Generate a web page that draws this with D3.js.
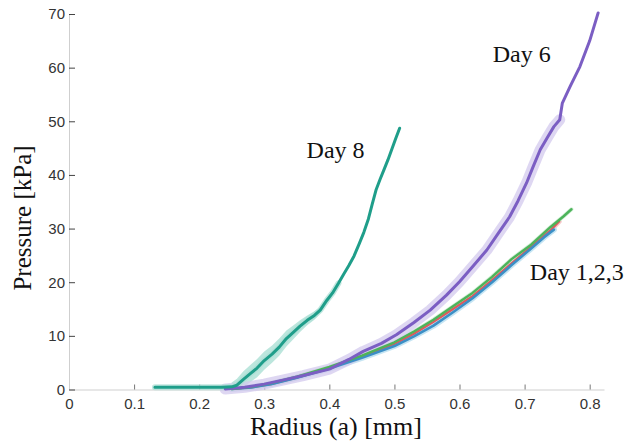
<!DOCTYPE html>
<meta charset="utf-8">
<style>
body { margin: 0; background: #fff; }
.axis text { font-family: "Liberation Sans", Arial, sans-serif; font-size: 15px; fill: #333; }
.axis .domain { stroke: #cfcfcf; }
.label { font-family: "Liberation Serif", "Times New Roman", serif; fill: #111; }
</style>
<svg width="634" height="442"></svg>
<script src="https://d3js.org/d3.v7.min.js"></script>
<script>

// x ticks and y ticks
var xTicks = [0, 0.1, 0.2, 0.3, 0.4, 0.5, 0.6, 0.7, 0.8],
    yTicks = [0, 10, 20, 30, 40, 50, 60, 70];

// Day 8
var day8R = [0.132, 0.16, 0.20, 0.235, 0.250, 0.258, 0.268, 0.279, 0.289, 0.300, 0.312, 0.323, 0.334, 0.345, 0.355, 0.366, 0.377, 0.386, 0.396, 0.405, 0.414, 0.422, 0.430, 0.438, 0.446, 0.453, 0.460, 0.466, 0.472, 0.478, 0.484, 0.490, 0.496, 0.502, 0.508];
var day8P = [0.4, 0.4, 0.4, 0.4, 0.5, 0.8, 1.9, 3.0, 4.0, 5.4, 6.6, 7.9, 9.5, 10.7, 11.8, 12.9, 13.8, 14.8, 16.6, 18.0, 19.8, 21.5, 23.1, 24.9, 27.2, 29.3, 31.8, 34.6, 37.3, 39.2, 41.0, 42.8, 44.8, 46.8, 48.7];
// Day 8 spread (kPa) for the shaded band
var day8S = [0.3, 0.3, 0.3, 0.4, 0.8, 1.2, 1.5, 1.6, 1.7, 1.7, 1.6, 1.6, 1.5, 1.3, 1.1, 0.9, 0.8, 0.6, 0.5, 0.4, 0.3, 0.3, 0.2, 0.2, 0.2, 0.2, 0.2, 0.2, 0.2, 0.2, 0.2, 0.2, 0.2, 0.2, 0.2];

// Day 6
var day6R = [0.24, 0.27, 0.30, 0.33, 0.36, 0.40, 0.43, 0.452, 0.48, 0.503, 0.53, 0.555, 0.58, 0.600, 0.620, 0.642, 0.660, 0.677, 0.690, 0.703, 0.713, 0.724, 0.735, 0.745, 0.754, 0.758, 0.770, 0.785, 0.800, 0.813];
var day6P = [0.1, 0.4, 1.0, 1.8, 2.6, 3.8, 5.6, 7.1, 8.6, 10.2, 12.5, 14.8, 17.6, 20.1, 22.9, 26.0, 29.2, 32.2, 35.2, 38.5, 41.5, 44.7, 47.0, 49.0, 50.3, 53.4, 56.5, 60.2, 65.0, 70.2];

// Day 1, 2, 3
var day1R = [0.25, 0.28, 0.31, 0.35, 0.40, 0.45, 0.50, 0.53, 0.56, 0.59, 0.62, 0.65, 0.68, 0.71, 0.73, 0.745];
var day1P = [0.1, 0.4, 1.0, 2.2, 3.9, 5.9, 8.1, 9.9, 11.9, 14.4, 17.0, 20.0, 23.2, 26.3, 28.4, 29.8];
var day2R = [0.25, 0.28, 0.31, 0.35, 0.40, 0.45, 0.50, 0.53, 0.56, 0.59, 0.62, 0.65, 0.68, 0.71, 0.74, 0.753];
var day2P = [0.1, 0.4, 1.0, 2.2, 4.0, 6.1, 8.5, 10.4, 12.6, 15.0, 17.4, 20.4, 23.5, 26.6, 29.7, 31.3];
var day3R = [0.25, 0.28, 0.31, 0.35, 0.40, 0.45, 0.50, 0.53, 0.56, 0.59, 0.62, 0.65, 0.68, 0.71, 0.74, 0.76, 0.772];
var day3P = [0.1, 0.5, 1.2, 2.4, 4.2, 6.3, 8.8, 10.8, 13.0, 15.5, 18.0, 21.0, 24.3, 27.0, 30.3, 32.3, 33.6];

var series = [
  {name: "Day 2", r: day2R, p: day2P, color: "#e0585c", band: "#f3b5b7", bw: 5, lw: 2.2, bandMax: 0.76},
  {name: "Day 1", r: day1R, p: day1P, color: "#3b8fc6", band: "#b3dcef", bw: 6, lw: 2.6, bandMax: 0.76},
  {name: "Day 3", r: day3R, p: day3P, color: "#4cb35a", band: "#c2e8c7", bw: 4, lw: 2.4, bandMax: 0.78},
  {name: "Day 6", r: day6R, p: day6P, color: "#7b5ec3", band: "#d3c9ee", bw: 11, lw: 3, bandMax: 0.755},
  {name: "Day 8", r: day8R, p: day8P, color: "#1f9e8a", band: "#addfd5", bw: 6, lw: 3, bandMax: 0.42}
];

var svg = d3.select("svg");

var x = d3.scaleLinear().domain([0, 0.822]).range([69, 604]);
var y = d3.scaleLinear().domain([0, 70]).range([389.5, 14]);

svg.append("g")
    .attr("class", "axis")
    .attr("transform", "translate(0," + y(0) + ")")
    .call(d3.axisBottom(x).tickValues(xTicks).tickSize(-5).tickSizeOuter(0).tickPadding(9)
      .tickFormat(function(d) { return d === 0 ? "0" : d3.format(".1f")(d); }))
    .call(function(g) { g.selectAll(".tick line").attr("stroke", "#777"); });

svg.append("g")
    .attr("class", "axis")
    .attr("transform", "translate(" + x(0) + ",0)")
    .call(d3.axisLeft(y).tickValues(yTicks).tickSize(-6).tickSizeOuter(0).tickPadding(4))
    .call(function(g) { g.selectAll(".tick line").attr("stroke", "#444"); });

var line = d3.line()
    .x(function(d) { return x(d[0]); })
    .y(function(d) { return y(d[1]); });

series.forEach(function(s) {
  s.pts = d3.zip(s.r, s.p);
});

// Day 8 spread area
var area8 = d3.area()
    .x(function(d) { return x(d[0]); })
    .y0(function(d) { return y(Math.max(0, d[1] - d[2])); })
    .y1(function(d) { return y(d[1] + d[2]); });

svg.append("path")
    .datum(d3.zip(day8R, day8P, day8S).filter(function(d) { return d[0] >= 0.24 && d[0] <= 0.42; }))
    .attr("d", area8)
    .attr("fill", "#9fdccf")
    .attr("opacity", 0.7);

// shaded bands
svg.append("g").selectAll("path")
    .data(series)
    .enter().append("path")
    .attr("d", function(d) { return line(d.pts.filter(function(p) { return p[0] <= d.bandMax; })); })
    .attr("fill", "none")
    .attr("stroke", function(d) { return d.band; })
    .attr("stroke-width", function(d) { return d.bw; })
    .attr("stroke-linejoin", "round")
    .attr("stroke-linecap", "round")
    .attr("opacity", 0.75);

svg.append("g").selectAll("path")
    .data(series)
    .enter().append("path")
    .attr("d", function(d) { return line(d.pts); })
    .attr("fill", "none")
    .attr("stroke", function(d) { return d.color; })
    .attr("stroke-width", function(d) { return d.lw; })
    .attr("stroke-linejoin", "round")
    .attr("stroke-linecap", "round");

// annotations
var notes = [
  {text: "Day 8", r: 0.365, p: 43.2},
  {text: "Day 6", r: 0.651, p: 61.0},
  {text: "Day 1,2,3", r: 0.708, p: 20.4}
];

svg.append("g").selectAll("text")
    .data(notes)
    .enter().append("text")
    .attr("class", "label")
    .attr("x", function(d) { return x(d.r); })
    .attr("y", function(d) { return y(d.p); })
    .attr("font-size", 24)
    .text(function(d) { return d.text; });

svg.append("text")
    .attr("class", "label")
    .attr("x", 336)
    .attr("y", 435)
    .attr("text-anchor", "middle")
    .attr("font-size", 26)
    .text("Radius (a) [mm]");

svg.append("text")
    .attr("class", "label")
    .attr("transform", "translate(31,218) rotate(-90)")
    .attr("text-anchor", "middle")
    .attr("font-size", 25)
    .text("Pressure [kPa]");

</script>
